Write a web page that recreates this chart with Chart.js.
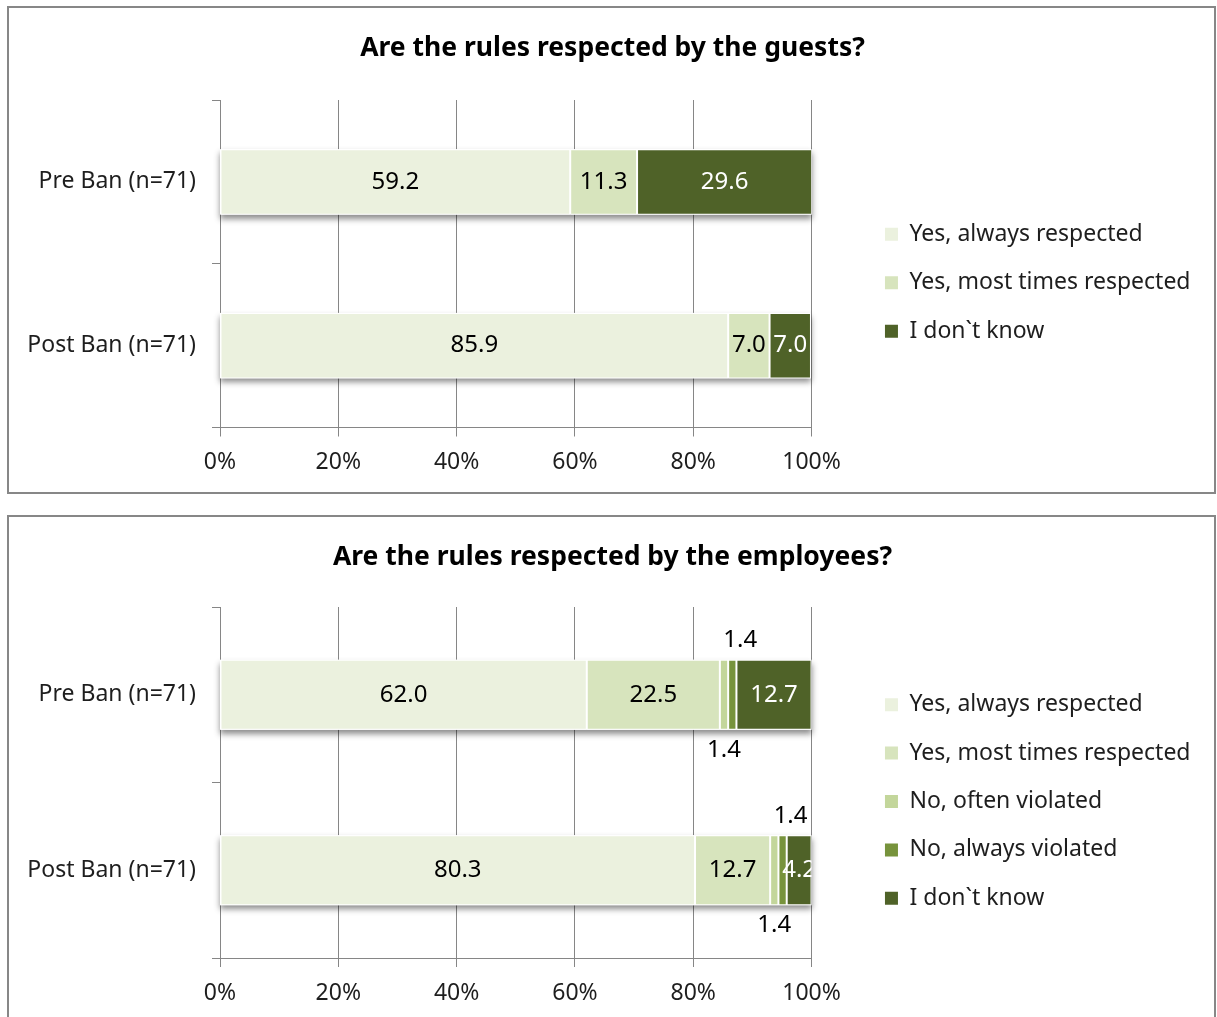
<!DOCTYPE html>
<html>
<head>
<meta charset="utf-8">
<script src="https://cdn.jsdelivr.net/npm/chart.js@4.4.0/dist/chart.umd.min.js"></script>
<style>
  html, body { margin: 0; padding: 0; background: #fff; overflow: hidden; }
  .panel { position: absolute; left: 7px; width: 1209px; border: 2px solid #878787; box-sizing: border-box; background: #fff; }
  #guestsPanel { top: 6px; height: 488px; }
  #staffPanel { top: 515px; height: 512px; }
  canvas { display: block; }
</style>
</head>
<body>
<div class="panel" id="guestsPanel"><canvas id="guestsChart" width="1205" height="484"></canvas></div>
<div class="panel" id="staffPanel"><canvas id="staffChart" width="1205" height="508"></canvas></div>
<script>
// survey answers, % of respondents
const groups = ["Pre Ban (n=71)", "Post Ban (n=71)"];
const pctTicks = [0, 20, 40, 60, 80, 100];

// guests
const guestAlways = [59.2, 85.9];
const guestMostly = [11.3, 7.0];
const guestDontKnow = [29.6, 7.0];

// employees
const staffAlways = [62.0, 80.3];
const staffMostly = [22.5, 12.7];
const staffOften = [1.4, 1.4];
const staffViolated = [1.4, 1.4];
const staffDontKnow = [12.7, 4.2];

const FONT = "'Noto Sans', 'Open Sans', sans-serif";
const GRID = "#868686";
const TEXT = "#1e1e1e";

// white block under each whole bar so it casts a soft drop shadow
const barShadow = {
  id: "barShadow",
  beforeDatasetsDraw(chart) {
    const { ctx, chartArea } = chart;
    const x0 = chart.scales.x.getPixelForValue(0);
    const metas = chart.getSortedVisibleDatasetMetas();
    const last = metas[metas.length - 1];
    ctx.save();
    ctx.shadowColor = "rgba(0,0,0,0.45)";
    ctx.shadowBlur = 6;
    ctx.shadowOffsetY = 4;
    ctx.fillStyle = "#fff";
    last.data.forEach((bar) => {
      const { x, y, height } = bar.getProps(["x", "y", "height"], true);
      ctx.fillRect(x0, y - height / 2, Math.min(x, chartArea.right) - x0, height);
    });
    ctx.restore();
  },
};

// value labels: centred in the segment, or above / below the bar for thin ones
const segmentLabels = {
  id: "segmentLabels",
  afterDatasetsDraw(chart) {
    const { ctx, chartArea } = chart;
    ctx.save();
    ctx.font = "24px " + FONT;
    ctx.textAlign = "center";
    ctx.textBaseline = "middle";
    chart.getSortedVisibleDatasetMetas().forEach((meta) => {
      const ds = chart.data.datasets[meta.index];
      meta.data.forEach((bar, i) => {
        const { x, y, base, height } = bar.getProps(["x", "y", "base", "height"], true);
        const text = ds.data[i].toFixed(1);
        let cx = (x + base) / 2;
        let cy = y;
        ctx.save();
        if (ds.labelAt === "above") {
          cy = y - height / 2 - 19;
          cx += 8;
          ctx.fillStyle = "#000";
        } else if (ds.labelAt === "below") {
          cy = y + height / 2 + 20;
          ctx.fillStyle = "#000";
        } else {
          ctx.beginPath();
          ctx.rect(chartArea.left, chartArea.top, chartArea.right - chartArea.left, chartArea.bottom - chartArea.top);
          ctx.clip();
          ctx.fillStyle = ds.labelColor || "#000";
        }
        ctx.fillText(text, cx, cy);
        ctx.restore();
      });
    });
    ctx.restore();
  },
};

function series(label, data, color, extra) {
  return Object.assign({
    label,
    data,
    backgroundColor: color,
    borderColor: "#fff",
    borderWidth: 1,
    borderSkipped: false,
    barPercentage: 0.4,
    categoryPercentage: 1,
  }, extra || {});
}

function makeOptions(title, titlePad, bottomPad) {
  return {
    indexAxis: "y",
    responsive: false,
    animation: false,
    layout: { padding: { left: 15.5, right: 13.5, top: 0, bottom: bottomPad } },
    plugins: {
      title: {
        display: true,
        text: title,
        color: "#000",
        font: { family: FONT, size: 26.5, weight: "bold" },
        padding: titlePad,
      },
      legend: {
        position: "right",
        fullSize: false,
        maxWidth: 400,
        title: { display: true, text: "", font: { size: 10 }, padding: { top: 13, bottom: 13 } },
        labels: {
          boxWidth: 13,
          boxHeight: 13,
          padding: 25.4,
          color: TEXT,
          font: { family: FONT, size: 23 },
          generateLabels(chart) {
            return Chart.defaults.plugins.legend.labels.generateLabels(chart)
              .map((l) => Object.assign(l, { lineWidth: 0, strokeStyle: l.fillStyle }));
          },
        },
      },
      tooltip: { enabled: false },
    },
    scales: {
      x: {
        stacked: true,
        min: 0,
        max: 100,
        afterBuildTicks: (s) => { s.ticks = pctTicks.map((v) => ({ value: v })); },
        ticks: { callback: (v) => v + "%", padding: 12.5, color: TEXT, font: { family: FONT, size: 23 } },
        grid: { color: GRID, tickLength: 9 },
        border: { color: GRID },
      },
      y: {
        stacked: true,
        grid: { offset: true, drawOnChartArea: false, tickLength: 8, color: GRID },
        border: { color: GRID },
        ticks: { padding: 16, color: TEXT, font: { family: FONT, size: 23 } },
        afterFit: (s) => { s.width = 195.5; },
      },
      // empty axis that keeps the legend away from the plot
      y2: {
        position: "right",
        grid: { display: false },
        ticks: { display: false },
        border: { display: false },
        afterFit: (s) => { s.width = 48; },
      },
    },
  };
}

new Chart(document.getElementById("guestsChart"), {
  type: "bar",
  data: {
    labels: groups,
    datasets: [
      series("Yes, always respected", guestAlways, "#EBF1DE"),
      series("Yes, most times respected", guestMostly, "#D7E4BD"),
      series("I don`t know", guestDontKnow, "#4F6228", { labelColor: "#fff" }),
    ],
  },
  options: makeOptions("Are the rules respected by the guests?", { top: 24.5, bottom: 35.7 }, 2.9),
  plugins: [barShadow, segmentLabels],
});

new Chart(document.getElementById("staffChart"), {
  type: "bar",
  data: {
    labels: groups,
    datasets: [
      series("Yes, always respected", staffAlways, "#EBF1DE"),
      series("Yes, most times respected", staffMostly, "#D7E4BD"),
      series("No, often violated", staffOften, "#C3D69B", { labelAt: "below" }),
      series("No, always violated", staffViolated, "#77933C", { labelAt: "above" }),
      series("I don`t know", staffDontKnow, "#4F6228", { labelColor: "#fff" }),
    ],
  },
  options: makeOptions("Are the rules respected by the employees?", { top: 24.5, bottom: 33.7 }, 5.4),
  plugins: [barShadow, segmentLabels],
});
</script>
</body>
</html>
